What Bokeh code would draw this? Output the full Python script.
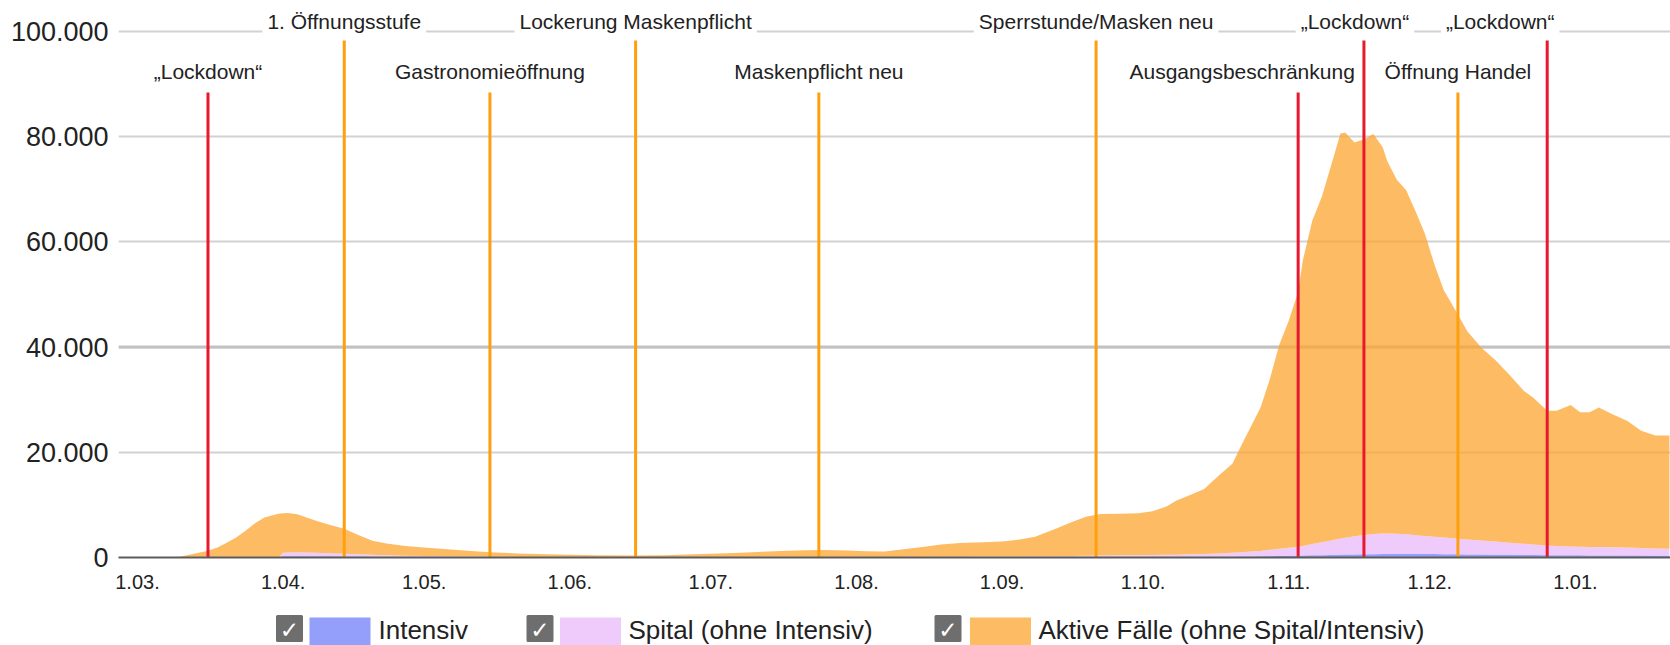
import datetime as dt
from bokeh.plotting import figure
from bokeh.models import Range1d, Label, FixedTicker, ColumnDataSource, Span
from bokeh.layouts import column
from bokeh.embed import file_html
from bokeh.resources import INLINE
from bokeh.core.properties import value

# ---------------- data ----------------
dates = [
    "2020-03-01", "2020-03-07", "2020-03-10", "2020-03-13", "2020-03-16", "2020-03-18",
    "2020-03-20", "2020-03-22", "2020-03-24", "2020-03-26", "2020-03-28", "2020-03-30",
    "2020-03-31", "2020-04-01", "2020-04-02", "2020-04-04", "2020-04-06", "2020-04-08",
    "2020-04-11", "2020-04-14", "2020-04-17", "2020-04-20", "2020-04-23", "2020-04-27",
    "2020-05-01", "2020-05-06", "2020-05-11", "2020-05-16", "2020-05-21", "2020-05-27",
    "2020-06-01", "2020-06-07", "2020-06-15", "2020-06-21", "2020-06-26", "2020-07-01",
    "2020-07-06", "2020-07-11", "2020-07-16", "2020-07-21", "2020-07-25", "2020-07-30",
    "2020-08-03", "2020-08-07", "2020-08-11", "2020-08-15", "2020-08-19", "2020-08-23",
    "2020-08-28", "2020-09-01", "2020-09-05", "2020-09-08", "2020-09-12", "2020-09-16",
    "2020-09-19", "2020-09-22", "2020-09-26", "2020-09-30", "2020-10-03", "2020-10-06",
    "2020-10-08", "2020-10-11", "2020-10-14", "2020-10-17", "2020-10-20", "2020-10-22",
    "2020-10-24", "2020-10-26", "2020-10-28", "2020-10-30", "2020-11-01", "2020-11-03",
    "2020-11-04", "2020-11-06", "2020-11-08", "2020-11-10", "2020-11-12", "2020-11-13",
    "2020-11-15", "2020-11-17", "2020-11-19", "2020-11-21", "2020-11-22", "2020-11-24",
    "2020-11-26", "2020-11-28", "2020-11-30", "2020-12-02", "2020-12-04", "2020-12-07",
    "2020-12-09", "2020-12-12", "2020-12-15", "2020-12-18", "2020-12-21", "2020-12-23",
    "2020-12-26", "2020-12-28", "2020-12-31", "2021-01-02", "2021-01-04", "2021-01-06",
    "2021-01-09", "2021-01-12", "2021-01-15", "2021-01-18", "2021-01-21",
]
# all active cases (top of the stack)
aktive_gesamt = [
    0, 0, 150, 700, 1300, 1900,
    2800, 3800, 5100, 6500, 7600, 8100,
    8300, 8400, 8450, 8200, 7600, 7000,
    6200, 5450, 4300, 3200, 2650, 2200,
    1900, 1550, 1250, 950, 780, 620,
    530, 430, 390, 420, 550, 700,
    850, 1050, 1250, 1380, 1420, 1350,
    1180, 1120, 1550, 2000, 2450, 2750,
    2900, 3050, 3450, 3950, 5300, 6800,
    7800, 8250, 8300, 8400, 8800, 9700,
    10800, 11900, 13000, 15500, 17800, 21500,
    25000, 28500, 34000, 40500, 45000, 50500,
    56500, 64000, 68500, 74500, 80600, 80800,
    78900, 79500, 80500, 78000, 75300, 71800,
    69800, 65800, 61500, 55700, 50800, 46200,
    43000, 39900, 37500, 34700, 31700, 30400,
    27900, 27900, 29000, 27600, 27600, 28500,
    27200, 26000, 24100, 23200, 23200,
]
# hospital incl. intensive care
spital_gesamt = [
    0, 0, 0, 0, 0, 0,
    0, 0, 0, 0, 0, 0,
    0, 900, 950, 1000, 950, 880,
    800, 720, 620, 520, 430, 350,
    290, 230, 180, 140, 110, 90,
    75, 65, 60, 60, 65, 70,
    80, 90, 95, 100, 105, 105,
    100, 100, 110, 120, 135, 150,
    170, 190, 210, 230, 260, 300,
    340, 380, 410, 440, 470, 500,
    540, 600, 680, 780, 900, 1000,
    1120, 1250, 1450, 1650, 1850, 2050,
    2200, 2550, 2900, 3250, 3600, 3750,
    4050, 4300, 4450, 4550, 4550, 4500,
    4400, 4250, 4100, 3950, 3800, 3550,
    3420, 3250, 3050, 2800, 2600, 2450,
    2300, 2200, 2100, 2050, 2000, 2000,
    1960, 1900, 1800, 1720, 1650,
]
intensiv = [
    0, 0, 0, 0, 0, 0,
    0, 0, 0, 0, 0, 0,
    0, 230, 250, 260, 260, 250,
    230, 200, 180, 150, 130, 110,
    90, 70, 55, 40, 30, 22,
    18, 12, 8, 8, 8, 10,
    10, 12, 14, 15, 16, 16,
    15, 15, 18, 20, 22, 25,
    30, 35, 40, 45, 50, 60,
    65, 70, 75, 80, 85, 90,
    95, 105, 120, 140, 160, 180,
    200, 230, 260, 290, 320, 350,
    370, 410, 450, 490, 530, 550,
    580, 610, 640, 670, 680, 700,
    700, 690, 680, 660, 640, 610,
    590, 570, 540, 510, 490, 470,
    450, 440, 420, 410, 400, 390,
    380, 370, 360, 350, 340,
]

series_names = ["Intensiv", "Spital (ohne Intensiv)", "Aktive Fälle (ohne Spital/Intensiv)"]
series_colors = ["#6f7ff8", "#eabafb", "#fca630"]

event_dates = ["2020-03-16", "2020-04-14", "2020-05-15", "2020-06-15", "2020-07-24",
               "2020-09-21", "2020-11-03", "2020-11-17", "2020-12-07", "2020-12-26"]
event_labels = ["„Lockdown“", "1. Öffnungsstufe", "Gastronomieöffnung", "Lockerung Maskenpflicht",
                "Maskenpflicht neu", "Sperrstunde/Masken neu", "Ausgangsbeschränkung", "„Lockdown“",
                "Öffnung Handel", "„Lockdown“"]
event_strict = [True, False, False, False, False, False, True, True, False, True]

y_ticks = [0, 20000, 40000, 60000, 80000, 100000]
y_tick_labels = ["0", "20.000", "40.000", "60.000", "80.000", "100.000"]
x_tick_dates = ["2020-03-01", "2020-04-01", "2020-05-01", "2020-06-01", "2020-07-01", "2020-08-01",
                "2020-09-01", "2020-10-01", "2020-11-01", "2020-12-01", "2021-01-01"]
x_tick_labels = ["1.03.", "1.04.", "1.05.", "1.06.", "1.07.", "1.08.", "1.09.", "1.10.", "1.11.", "1.12.", "1.01."]

# ---------------- layout / style ----------------
EPOCH = dt.datetime(1970, 1, 1)
DAY = 86400000.0


def ms(s):
    return (dt.datetime.strptime(s, "%Y-%m-%d") - EPOCH).total_seconds() * 1000.0


PAGE_W = 1670
FRAME_LEFT = 118     # page x of the plot frame's left edge
FRAME_TOP = 8        # page y of the plot frame's top edge
AXIS_Y = 557         # page y of the zero line
BOTTOM_BORDER = 48
MAIN_H = AXIS_Y + BOTTOM_BORDER
LEG_H = 645 - MAIN_H
PX_PER_DAY = 4.699
PX_PER_UNIT = 526 / 100000.0  # pixels per case

x_start = ms(x_tick_dates[0]) - 19 / PX_PER_DAY * DAY
x_end = x_start + (PAGE_W - FRAME_LEFT) / PX_PER_DAY * DAY
y_top = (AXIS_Y - FRAME_TOP) / PX_PER_UNIT


def yval(page_y):
    return (AXIS_Y - page_y) / PX_PER_UNIT


TEXT_FONT = "Liberation Sans"
TEXT_COLOR = "#222222"
RED = "#e8182f"
ORANGE = "#ff9f0d"

# ---------------- main chart ----------------
x_ms = [ms(d) for d in dates]
spital = [s - i for s, i in zip(spital_gesamt, intensiv)]
aktive = [a - s for a, s in zip(aktive_gesamt, spital_gesamt)]
src = ColumnDataSource(dict(x=x_ms, intensiv=intensiv, spital=spital, aktive=aktive))

p = figure(width=PAGE_W, height=MAIN_H, x_axis_type="datetime",
           x_range=Range1d(x_start, x_end), y_range=Range1d(0, y_top),
           output_backend="svg", toolbar_location=None,
           min_border_left=FRAME_LEFT, min_border_right=0, min_border_top=FRAME_TOP,
           min_border_bottom=BOTTOM_BORDER, outline_line_color=None)

# grid
p.xgrid.visible = False
p.ygrid.ticker = FixedTicker(ticks=y_ticks)
p.ygrid.grid_line_color = "#d2d2d2"
p.ygrid.grid_line_width = 2
p.ygrid.level = "underlay"
# the 40.000 gridline is drawn a bit stronger in the original
p.add_layout(Span(location=y_ticks[2], dimension="width", line_color="#c2c2c2",
                  line_width=3, level="underlay"))

p.varea_stack(stackers=["intensiv", "spital", "aktive"], x="x", color=series_colors,
              fill_alpha=0.75, source=src)

# y axis
p.yaxis.ticker = FixedTicker(ticks=y_ticks)
p.yaxis.major_label_overrides = dict(zip(y_ticks, y_tick_labels))
p.yaxis.axis_line_color = None
p.yaxis.major_tick_line_color = None
p.yaxis.minor_tick_line_color = None
p.yaxis.major_tick_out = 0
p.yaxis.major_label_standoff = 10
p.yaxis.major_label_text_font = TEXT_FONT
p.yaxis.major_label_text_font_size = "27px"
p.yaxis.major_label_text_color = TEXT_COLOR

# x axis
x_ticks = [ms(d) for d in x_tick_dates]
p.xaxis.ticker = FixedTicker(ticks=x_ticks)
p.xaxis.major_label_overrides = dict(zip(x_ticks, x_tick_labels))
p.xaxis.axis_line_color = "#5c5c5c"
p.xaxis.axis_line_width = 2
p.xaxis.major_tick_line_color = None
p.xaxis.minor_tick_line_color = None
p.xaxis.major_tick_out = 0
p.xaxis.major_label_standoff = 17
p.xaxis.major_label_text_font = TEXT_FONT
p.xaxis.major_label_text_font_size = "20px"
p.xaxis.major_label_text_color = TEXT_COLOR

# event lines + labels
label_y = {True: yval(21), False: yval(71)}   # upper row / lower row
line_top = {True: yval(40), False: yval(92)}
label_shift = [0, 0, 0, 0, 0, 0, -56, -9, 0, -47]
ev_x, ev_top, ev_col = [], [], []
for i, (d, txt, strict) in enumerate(zip(event_dates, event_labels, event_strict)):
    upper = (i % 2 == 1)
    ev_x.append(ms(d))
    ev_top.append(line_top[upper])
    ev_col.append(RED if strict else ORANGE)
    p.add_layout(Label(x=ms(d), y=label_y[upper], text=txt, text_align="center",
                       text_baseline="middle", x_offset=label_shift[i],
                       text_font=TEXT_FONT, text_font_size="21px", text_color=TEXT_COLOR,
                       background_fill_color="white", padding=5))
ev_src = ColumnDataSource(dict(x=ev_x, top=ev_top, zero=[0] * len(ev_x), color=ev_col))
p.segment(x0="x", x1="x", y0="zero", y1="top", line_color="color", line_width=3, source=ev_src)

# ---------------- legend row (x and y in page pixels) ----------------
leg = figure(width=PAGE_W, height=LEG_H, x_range=Range1d(FRAME_LEFT, PAGE_W),
             y_range=Range1d(645, MAIN_H), output_backend="svg", toolbar_location=None,
             min_border_left=FRAME_LEFT, min_border_right=0, min_border_top=0, min_border_bottom=0,
             x_axis_location=None, y_axis_location=None, outline_line_color=None)
leg.grid.visible = False

box_x = [289, 539.5, 947.5]
swatch_x = [339.5, 590, 1000]
text_x = [378, 628, 1038]
leg.rect(x=box_x, y=[628] * 3, width=24, height=24, fill_color="#6e6e6e", line_color="#6e6e6e",
         line_width=3, line_join="round")
leg.text(x=box_x, y=[629] * 3, text=["✓"] * 3, text_align="center", text_baseline="middle",
         text_color="white", text_font=value("DejaVu Sans"), text_font_style="bold",
         text_font_size="23px")
leg.rect(x=swatch_x, y=[631] * 3, width=61, height=28, fill_color=series_colors, fill_alpha=0.75,
         line_color=None)
leg.text(x=text_x, y=[629] * 3, text=series_names, text_align="left", text_baseline="middle",
         text_color=TEXT_COLOR, text_font=value(TEXT_FONT), text_font_size="26px")

layout = column(p, leg, spacing=0)
open("out.html", "w").write(file_html(layout, INLINE))
